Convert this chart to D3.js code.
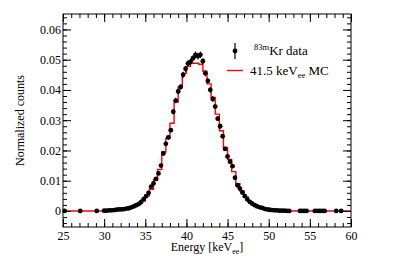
<!DOCTYPE html>
<html>
<head>
<meta charset="utf-8">
<script src="https://cdn.jsdelivr.net/npm/d3@7"></script>
<style>
  body { margin: 0; background: #fff; }
  svg text { font-family: "Liberation Serif", "DejaVu Serif", serif; fill: #000; }
</style>
</head>
<body>
<div id="chart"></div>
<script>
// 83mKr data points (energy in keVee, normalized counts, error)
const dataEnergy = [
    25.2, 27.1, 29.1,
    30.0, 30.3, 30.6, 30.9, 31.2, 31.5, 31.8, 32.1, 32.4, 32.7,
    33.0, 33.3, 33.6, 33.9, 34.2, 34.5, 34.8, 35.1, 35.4, 35.7,
    36.0, 36.3, 36.6, 36.9, 37.2, 37.5, 37.8, 38.1, 38.4, 38.7,
    39.0, 39.3, 39.6, 39.9, 40.2, 40.5, 40.8, 41.1, 41.4, 41.7,
    42.0, 42.3, 42.6, 42.9, 43.2, 43.5, 43.8, 44.1, 44.4, 44.7,
    45.0, 45.3, 45.6, 45.9, 46.2, 46.5, 46.8, 47.1, 47.4, 47.7,
    48.0, 48.3, 48.6, 48.9, 49.2, 49.5, 49.8, 50.1, 50.4, 50.7,
    51.0, 51.3, 51.6, 51.9, 52.2, 52.5,
    53.8, 54.0, 54.3, 54.6, 55.6, 55.9, 56.2, 56.5, 56.8, 58.2, 58.8
];
const dataCounts = [
    0, 0, 0,
    .0001, .0001, .0002, .0002, .0003, .0004, .0005, .0005, .0006, .0008,
    .0009, .0012, .0015, .0019, .0023, .0030, .0039, .0049, .0060, .0080,
    .0091, .0106, .0124, .0150, .0190, .0222, .0243, .0267, .0328, .0365,
    .0395, .0410, .0450, .0470, .0488, .0493, .0505, .0516, .0512, .0516,
    .0495, .0455, .0430, .0400, .0370, .0345, .0305, .0280, .0247, .0205,
    .0180, .0163, .0148, .0110, .0085, .0074, .0061, .0049, .0038, .0030,
    .0024, .0019, .0015, .0012, .0010, .0007, .0005, .0004, .0003, .0002,
    .0002, .0001, .0001, .0001, .0000, .0000,
    0, 0, 0, 0, 0, 0, 0, 0, 0, 0, 0
];
const dataErrors = [
    0, 0, 0,
    .0001, .0001, .0001, .0001, .0001, .0001, .0001, .0001, .0001, .0001,
    .0001, .0002, .0002, .0002, .0002, .0002, .0003, .0003, .0003, .0004,
    .0004, .0005, .0005, .0005, .0006, .0007, .0007, .0007, .0008, .0009,
    .0009, .0009, .0010, .0010, .0010, .0010, .0010, .0011, .0011, .0011,
    .0010, .0010, .0009, .0009, .0009, .0008, .0008, .0008, .0007, .0006,
    .0006, .0006, .0005, .0005, .0004, .0004, .0004, .0003, .0003, .0002,
    .0002, .0002, .0002, .0002, .0001, .0001, .0001, .0001, .0001, .0001,
    .0001, .0001, .0001, .0001, .0000, .0000,
    0, 0, 0, 0, 0, 0, 0, 0, 0, 0, 0
];

// 41.5 keVee MC histogram, 0.5 keV bins from 25 to 60
const mcStart = 25;
const mcBinWidth = 0.5;
const mcValues = [
    0, 0, 0, 0, 0, 0, 0, 0, 0, 0,
    .0001, .0002, .0003, .0004, .0005, .0007, .0010, .0015, .0022, .0033, .0050, .0072,
    .0103, .0137, .0195, .0240, .0290, .0360, .0410, .0455, .0478, .0488, .0488, .0485,
    .0462, .0420, .0375, .0320, .0265, .0210, .0170, .0130, .0090, .0066, .0046, .0031,
    .0021, .0014, .0010, .0006, .0004, .0003, .0002, .0001,
    0, 0, 0, 0, 0, 0, 0, 0, 0, 0, 0, 0, 0, 0, 0, 0
];

const xTicks = [25, 30, 35, 40, 45, 50, 55, 60];
const yTicks = [0, 0.01, 0.02, 0.03, 0.04, 0.05, 0.06];

const FONT = '"Liberation Serif", "DejaVu Serif", serif';

const width = 399;
const height = 270;
const margin = { top: 14, right: 48, bottom: 43, left: 63 };
const innerWidth = width - margin.left - margin.right;
const innerHeight = height - margin.top - margin.bottom;

const svg = d3.select('#chart')
    .append('svg')
    .attr('width', width)
    .attr('height', height)
    .attr('font-family', FONT);

const g = svg.append('g')
    .attr('transform', `translate(${margin.left},${margin.top})`);

const xScale = d3.scaleLinear()
    .domain([25, 60])
    .range([0, innerWidth]);

const yScale = d3.scaleLinear()
    .domain([-0.0053, 0.0651])
    .range([innerHeight, 0]);

// MC histogram as a step line
const mcPoints = mcValues.map((v, i) => ({ x: mcStart + i * mcBinWidth, y: v }));
mcPoints.push({ x: mcStart + mcValues.length * mcBinWidth, y: mcValues[mcValues.length - 1] });

const stepLine = d3.line()
    .curve(d3.curveStepAfter)
    .x(d => xScale(d.x))
    .y(d => yScale(d.y));

g.append('path')
    .datum(mcPoints)
    .attr('d', stepLine)
    .style('fill', 'none')
    .style('stroke', '#ff0000')
    .style('stroke-width', 1.4);

// data points with error bars
const points = dataEnergy.map((e, i) => ({ e: e, v: dataCounts[i], err: dataErrors[i] }));

g.selectAll('.err')
    .data(points)
    .enter()
    .append('line')
    .attr('class', 'err')
    .attr('x1', d => xScale(d.e))
    .attr('x2', d => xScale(d.e))
    .attr('y1', d => yScale(d.v - d.err))
    .attr('y2', d => yScale(d.v + d.err))
    .style('stroke', '#000')
    .style('stroke-width', 1.2);

g.selectAll('.pt')
    .data(points)
    .enter()
    .append('circle')
    .attr('class', 'pt')
    .attr('cx', d => xScale(d.e))
    .attr('cy', d => yScale(d.v))
    .attr('r', 2.4)
    .style('fill', '#000');

// frame
g.append('rect')
    .attr('width', innerWidth)
    .attr('height', innerHeight)
    .style('fill', 'none')
    .style('stroke', '#000')
    .style('stroke-width', 1);

// axes: major and minor ticks on all four sides, ticks point inward
const fmtY = d => d === 0 ? '0' : d3.format('.2f')(d);
const xMinor = d3.range(25, 60.01, 1);
const yMinor = d3.range(-0.004, 0.0651, 0.002);

function addAxis(axis, transform) {
    const a = g.append('g')
        .attr('transform', transform)
        .call(axis)
        .attr('font-family', FONT)
        .attr('font-size', 12);
    a.select('.domain').remove();
    a.selectAll('line').style('stroke', '#000');
    a.selectAll('text').attr('font-family', FONT);
    return a;
}

addAxis(d3.axisBottom(xScale).tickValues(xTicks).tickSize(-8).tickPadding(4).tickFormat(d3.format('d')),
    `translate(0,${innerHeight})`);
addAxis(d3.axisBottom(xScale).tickValues(xMinor).tickSize(-4).tickFormat(''),
    `translate(0,${innerHeight})`);
addAxis(d3.axisTop(xScale).tickValues(xTicks).tickSize(-8).tickFormat(''), 'translate(0,0)');
addAxis(d3.axisTop(xScale).tickValues(xMinor).tickSize(-4).tickFormat(''), 'translate(0,0)');

addAxis(d3.axisLeft(yScale).tickValues(yTicks).tickSize(-8).tickPadding(2).tickFormat(fmtY),
    'translate(0,0)');
addAxis(d3.axisLeft(yScale).tickValues(yMinor).tickSize(-4).tickFormat(''), 'translate(0,0)');
addAxis(d3.axisRight(yScale).tickValues(yTicks).tickSize(-8).tickFormat(''),
    `translate(${innerWidth},0)`);
addAxis(d3.axisRight(yScale).tickValues(yMinor).tickSize(-4).tickFormat(''),
    `translate(${innerWidth},0)`);

// axis titles
const xTitle = svg.append('text')
    .attr('x', margin.left + innerWidth / 2)
    .attr('y', 251)
    .attr('text-anchor', 'middle')
    .attr('font-family', FONT)
    .style('font-size', '12px');
xTitle.append('tspan').text('Energy [keV');
xTitle.append('tspan').attr('dy', 3).style('font-size', '8px').text('ee');
xTitle.append('tspan').attr('dy', -3).text(']');

svg.append('text')
    .attr('transform', `translate(24,${margin.top + innerHeight / 2}) rotate(-90)`)
    .attr('text-anchor', 'middle')
    .attr('font-family', FONT)
    .style('font-size', '12px')
    .text('Normalized counts');

// legend
const legend = svg.append('g')
    .attr('class', 'legend');

legend.append('line')
    .attr('x1', 235).attr('x2', 235)
    .attr('y1', 43).attr('y2', 59)
    .style('stroke', '#000')
    .style('stroke-width', 1.2);
legend.append('circle')
    .attr('cx', 235).attr('cy', 51)
    .attr('r', 2.4)
    .style('fill', '#000');

const t1 = legend.append('text')
    .attr('x', 254)
    .attr('y', 55)
    .attr('font-family', FONT)
    .style('font-size', '13px');
t1.append('tspan').attr('dy', -5).style('font-size', '8.5px').text('83m');
t1.append('tspan').attr('dy', 5).text('Kr data');

legend.append('line')
    .attr('x1', 227).attr('x2', 243)
    .attr('y1', 70.5).attr('y2', 70.5)
    .style('stroke', '#ff0000')
    .style('stroke-width', 1.4);

const t2 = legend.append('text')
    .attr('x', 250)
    .attr('y', 75)
    .attr('font-family', FONT)
    .style('font-size', '13px');
t2.append('tspan').text('41.5 keV');
t2.append('tspan').attr('dy', 3).style('font-size', '8.5px').text('ee');
t2.append('tspan').attr('dy', -3).text(' MC');
</script>
</body>
</html>
